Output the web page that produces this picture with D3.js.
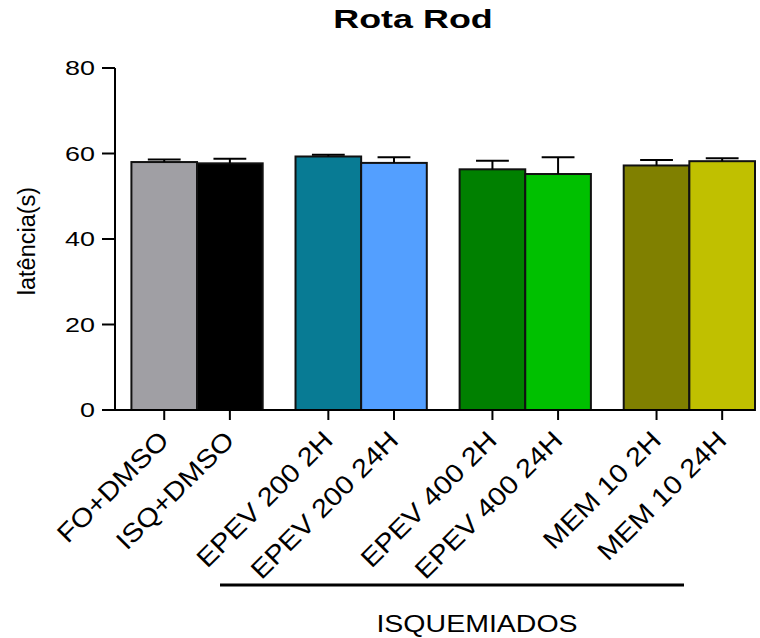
<!DOCTYPE html>
<html>
<head>
<meta charset="utf-8">
<script src="https://cdn.jsdelivr.net/npm/d3@7/dist/d3.min.js"></script>
<style>
  body { margin: 0; background: #fff; }
  text { font-family: "Liberation Sans", Arial, sans-serif; fill: #000; }
</style>
</head>
<body>
<div id="chart"></div>
<script>
// data
const groups = ['FO+DMSO', 'ISQ+DMSO', 'EPEV 200 2H', 'EPEV 200 24H', 'EPEV 400 2H', 'EPEV 400 24H', 'MEM 10 2H', 'MEM 10 24H'];
const means = [58.0, 57.7, 59.3, 57.8, 56.3, 55.2, 57.2, 58.2];
const sems = [0.6, 1.1, 0.4, 1.3, 2.0, 3.9, 1.3, 0.7];
const colors = ['#a09fa4', '#000000', '#087b94', '#539fff', '#008000', '#00c000', '#808000', '#c0c000'];
const yTicks = [0, 20, 40, 60, 80];

const width = 760;
const height = 638;

const svg = d3.select('#chart')
  .append('svg')
  .attr('width', width)
  .attr('height', height);

// bar slots: pairs of bars, half a bar of space between pairs
const slot = (i) => Math.floor(i / 2) * 2.5 + (i % 2);

const x = d3.scaleLinear()
  .domain([-0.25, 9.5])
  .range([115, 755]);

const y = d3.scaleLinear()
  .domain([0, 80])
  .range([410, 68]);

// title
svg.append('text')
  .attr('transform', 'translate(413,28) scale(1.38,1)')
  .attr('text-anchor', 'middle')
  .attr('font-size', 26)
  .attr('font-weight', 'bold')
  .text('Rota Rod');

// y axis
svg.append('line')
  .attr('x1', 115).attr('x2', 115)
  .attr('y1', y(0)).attr('y2', y(80))
  .attr('stroke', '#000').attr('stroke-width', 2);

const gy = svg.append('g');
yTicks.forEach((t) => {
  gy.append('line')
    .attr('x1', 102).attr('x2', 115)
    .attr('y1', y(t)).attr('y2', y(t))
    .attr('stroke', '#000').attr('stroke-width', 2);
  gy.append('text')
    .attr('transform', `translate(95,${y(t) + 7}) scale(1.38,1)`)
    .attr('text-anchor', 'end')
    .attr('font-size', 19.5)
    .text(t);
});

svg.append('text')
  .attr('transform', 'translate(35,241) rotate(-90)')
  .attr('text-anchor', 'middle')
  .attr('font-size', 23.5)
  .text('latência(s)');

// bars
const bw = x(1) - x(0);
svg.append('g')
  .selectAll('rect')
  .data(groups)
  .join('rect')
  .attr('x', (d, i) => x(slot(i)))
  .attr('y', (d, i) => y(means[i]))
  .attr('width', bw)
  .attr('height', (d, i) => y(0) - y(means[i]))
  .attr('fill', (d, i) => colors[i])
  .attr('stroke', '#111')
  .attr('stroke-width', 2);

// error bars (upper only)
const err = svg.append('g');
groups.forEach((g, i) => {
  const cx = x(slot(i) + 0.5);
  err.append('line')
    .attr('x1', cx).attr('x2', cx)
    .attr('y1', y(means[i])).attr('y2', y(means[i] + sems[i]))
    .attr('stroke', '#000').attr('stroke-width', 2);
  err.append('line')
    .attr('x1', cx - bw / 4).attr('x2', cx + bw / 4)
    .attr('y1', y(means[i] + sems[i])).attr('y2', y(means[i] + sems[i]))
    .attr('stroke', '#000').attr('stroke-width', 2);
});

// x axis
svg.append('line')
  .attr('x1', 115).attr('x2', x(9.5))
  .attr('y1', y(0)).attr('y2', y(0))
  .attr('stroke', '#000').attr('stroke-width', 2);

const xt = svg.append('g');
groups.forEach((g, i) => {
  const cx = x(slot(i) + 0.5);
  xt.append('line')
    .attr('x1', cx).attr('x2', cx)
    .attr('y1', y(0)).attr('y2', y(0) + 10)
    .attr('stroke', '#000').attr('stroke-width', 2);
  xt.append('text')
    .attr('transform', `translate(${cx + 6},${y(0) + 32}) rotate(-45) scale(1.12,1)`)
    .attr('text-anchor', 'end')
    .attr('font-size', 26)
    .text(g);
});

// group bracket
svg.append('line')
  .attr('x1', 220).attr('x2', 684)
  .attr('y1', 585).attr('y2', 585)
  .attr('stroke', '#000').attr('stroke-width', 3);

svg.append('text')
  .attr('transform', 'translate(477,632) scale(1.24,1)')
  .attr('text-anchor', 'middle')
  .attr('font-size', 23)
  .text('ISQUEMIADOS');
</script>
</body>
</html>
